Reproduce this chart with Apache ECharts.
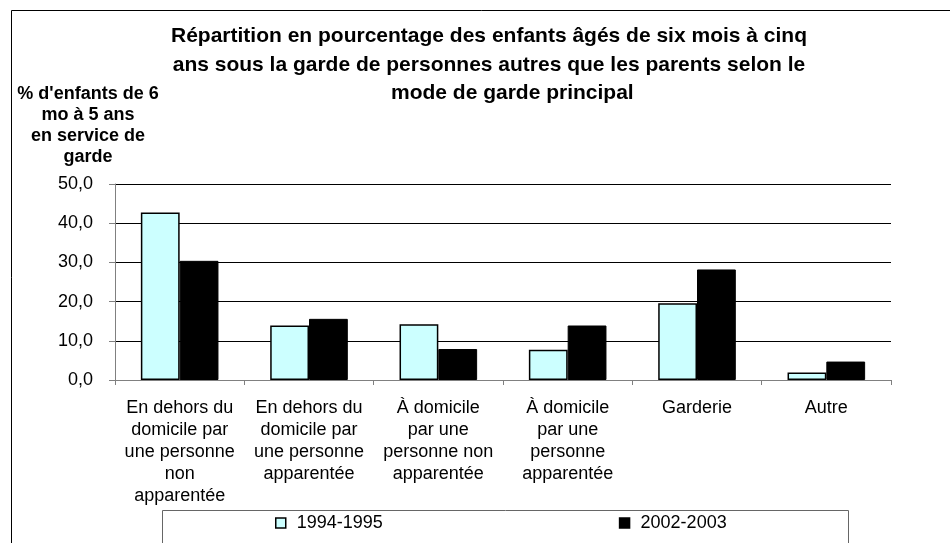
<!DOCTYPE html>
<html>
<head>
<meta charset="utf-8">
<script src="https://cdn.jsdelivr.net/npm/echarts@6/dist/echarts.min.js"></script>
<style>
  html, body { margin: 0; padding: 0; background: #fff; }
  #chart { width: 950px; height: 543px; }
</style>
</head>
<body>
<div id="chart"></div>
<script>
const categories = [
  'En dehors du\ndomicile par\nune personne\nnon\napparentée',
  'En dehors du\ndomicile par\nune personne\napparentée',
  'À domicile\npar une\npersonne non\napparentée',
  'À domicile\npar une\npersonne\napparentée',
  'Garderie',
  'Autre'
];
const seriesNames = ['1994-1995', '2002-2003'];
const values1994 = [42.7, 13.9, 14.2, 7.7, 19.6, 1.9];
const values2002 = [30.4, 15.6, 7.9, 13.9, 28.2, 4.7];
const yTicks = { min: 0, max: 50, interval: 10 };

const font = '"Liberation Sans", Arial, sans-serif';
const chart = echarts.init(document.getElementById('chart'));

// third title line sits a little right of the first two in the original
const pad = '\u00a0'.repeat(8);

chart.setOption({
  animation: false,
  backgroundColor: '#fff',
  title: {
    text: 'Répartition en pourcentage des enfants âgés de six mois à cinq\nans sous la garde de personnes autres que les parents selon le\n' + pad + 'mode de garde principal',
    left: 484,
    top: 17,
    textAlign: 'center',
    textStyle: {
      fontFamily: font,
      fontSize: 21,
      fontWeight: 'bold',
      color: '#000',
      lineHeight: 28.5
    }
  },
  legend: {
    data: seriesNames,
    icon: 'rect',
    left: 275,
    top: 514,
    padding: 0,
    itemWidth: 10,
    itemHeight: 10,
    itemGap: 236,
    itemStyle: { borderColor: '#000', borderWidth: 1.5 },
    textStyle: { fontFamily: font, fontSize: 18, color: '#000', padding: [0, 0, 0, 6] }
  },
  graphic: [
    {
      type: 'rect',
      shape: { x: 11.5, y: 10.5, width: 960, height: 600 },
      style: { fill: 'none', stroke: '#000', lineWidth: 1 },
      z: -1
    },
    {
      type: 'rect',
      shape: { x: 162.5, y: 510.5, width: 686, height: 60 },
      style: { fill: 'none', stroke: '#666', lineWidth: 1 },
      z: -1
    },
    {
      type: 'text',
      x: 88,
      y: 84,
      style: {
        text: "% d'enfants de 6\nmo à 5 ans\nen service de\ngarde",
        textAlign: 'center',
        fontFamily: font,
        fontSize: 18,
        fontWeight: 'bold',
        lineHeight: 21,
        fill: '#000'
      }
    }
  ],
  grid: { left: 115, right: 59, top: 184, bottom: 163 },
  xAxis: {
    type: 'category',
    data: categories,
    axisLine: { lineStyle: { color: '#808080' } },
    axisTick: { show: true, length: 5, lineStyle: { color: '#808080' } },
    axisLabel: {
      interval: 0,
      margin: 17,
      fontFamily: font,
      fontSize: 18,
      lineHeight: 22,
      color: '#000'
    }
  },
  yAxis: {
    type: 'value',
    min: yTicks.min,
    max: yTicks.max,
    interval: yTicks.interval,
    axisLine: { show: true, lineStyle: { color: '#808080' } },
    axisTick: { show: true, length: 6, lineStyle: { color: '#808080' } },
    splitLine: { lineStyle: { color: '#000', width: 1 } },
    axisLabel: {
      margin: 22,
      fontFamily: font,
      fontSize: 18,
      color: '#000',
      formatter: v => v.toFixed(1).replace('.', ',')
    }
  },
  series: [
    {
      name: seriesNames[0],
      type: 'bar',
      data: values1994,
      barGap: '0%',
      barCategoryGap: '40%',
      itemStyle: { color: '#CCFFFF', borderColor: '#000', borderWidth: 1.5 }
    },
    {
      name: seriesNames[1],
      type: 'bar',
      data: values2002,
      itemStyle: { color: '#000', borderColor: '#000', borderWidth: 1 }
    }
  ]
});
</script>
</body>
</html>
